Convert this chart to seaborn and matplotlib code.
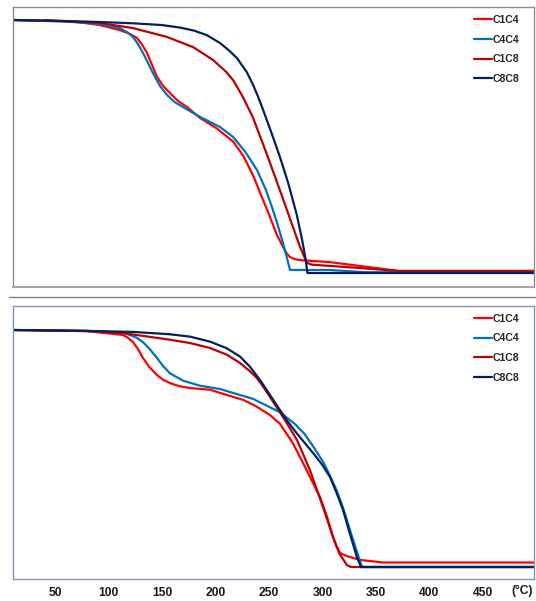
import numpy as np
import pandas as pd
import matplotlib
matplotlib.use('Agg')
import matplotlib.pyplot as plt
import seaborn as sns
from matplotlib.lines import Line2D

sns.set_style('white')
plt.rcParams['font.family'] = ['Liberation Sans', 'DejaVu Sans']

samples = ['C1C4', 'C4C4', 'C1C8', 'C8C8']
colors = {'C1C4': '#FF0000', 'C4C4': '#0070C0', 'C1C8': '#C00000', 'C8C8': '#002060'}
x_ticks = [50, 100, 150, 200, 250, 300, 350, 400, 450]

# --- upper panel (temperature, weight %) ---
top_c1c4_t = [40, 70, 92, 110.7, 120, 126.6, 131, 136, 141, 145.3, 151, 157.5, 165, 173.4, 185.5, 201,
              216.6, 226, 235.3, 243.2, 250.9, 257, 263.1, 266.5, 269.6, 274, 279, 307, 340, 371.5, 500]
top_c1c4_w = [100, 99.3, 98, 96, 94.5, 92.9, 90.5, 87, 82, 77.5, 74, 71.1, 68, 65.6, 61.3, 57.2,
              51.9, 46.3, 38.4, 30.2, 22.2, 15.5, 10.3, 7.8, 6.3, 5.5, 5.1, 4.3, 2.5, 0.8, 0.8]

top_c4c4_t = [11, 60, 92, 110.7, 118, 122.9, 127.5, 132.2, 137, 141.6, 148, 154.7, 162, 169.6, 185.5,
              204.2, 216.4, 228, 238.8, 247.2, 253.7, 258.5, 263.1, 266.5, 269.6, 307, 340, 500]
top_c4c4_w = [100, 99.4, 98.4, 96.8, 95, 93.3, 90.5, 87, 83, 79, 74, 70.4, 67.5, 65.6, 61.7,
              57.7, 53.8, 47.8, 40.7, 32.8, 24.9, 18.5, 11.9, 6.5, 1.2, 1.2, 0.3, 0.3]

top_c1c8_t = [11, 60, 92, 122.9, 154.7, 179, 197.7, 210, 216.4, 225.7, 235, 247.5, 257,
              266.8, 279, 285.5, 290, 307, 340, 371.5, 500]
top_c1c8_w = [100, 99.5, 98.8, 96.8, 93.3, 89.3, 84.2, 79.5, 76.3, 69.5, 61.5, 47.5, 36.5,
              24.9, 10.3, 4, 3.3, 2.8, 1.8, 0.8, 0.8]

top_c8c8_t = [11, 60, 92, 123, 150, 167, 180, 192, 204.2, 212, 220, 229.4, 235, 239.7, 244.4,
              252, 260.3, 268, 276, 281, 284, 286, 500]
top_c8c8_w = [100, 99.6, 99.2, 98.7, 98.0, 97.0, 95.8, 94, 90.9, 88.2, 85, 79.3, 74.5, 69.8, 64.6,
              55.8, 45.8, 35.5, 23, 13, 6, 0, 0]

# --- lower panel ---
bot_c1c4_t = [30, 80, 113.6, 118, 122.9, 127.5, 132.2, 138, 145.3, 151, 157.5, 166, 176.2, 194.9,
              210.5, 226, 238.5, 250.9, 260.3, 272, 281.8, 290, 297.7, 304, 309.8, 313, 316.4,
              322.9, 335, 356.5, 500]
bot_c1c4_w = [100, 99.5, 97.9, 96.8, 94.9, 92, 88.2, 84.5, 81, 79, 77.6, 76.3, 75.5, 74.8,
              72.6, 70.5, 67.7, 64.1, 60.4, 52.5, 43.9, 36.5, 29.5, 21.5, 12.7, 8.8, 5.9,
              4.6, 3, 1.9, 1.9]

bot_c4c4_t = [11, 80, 113.6, 120.1, 126, 132.2, 138.5, 145.3, 151, 157.5, 169.9, 185.5, 204.2, 219.8,
              235.3, 247.8, 260.3, 274.3, 283, 291.4, 300.7, 307, 313.3, 319.2, 325.7, 330, 334, 337, 500]
bot_c4c4_w = [100, 99.6, 98.9, 97.9, 96.8, 94.9, 92, 88.2, 84.8, 81.7, 78.6, 76.5, 75.1, 73,
              70.9, 68.1, 65.3, 60.3, 56.3, 50.8, 44.3, 38.5, 32.3, 25, 15.6, 9.5, 4, 0, 0]

bot_c1c8_t = [11, 80, 113.6, 157.5, 176.2, 194.9, 210.5, 222.9, 232.2, 238.5, 244, 252, 263.1,
              276.2, 288.3, 300.5, 309.8, 316, 322.9, 326.6, 500]
bot_c1c8_w = [100, 99.6, 98.7, 95.9, 94.5, 92.4, 89.6, 86.1, 82.6, 79.8, 76.5, 71, 63.3,
              53.6, 40.9, 25.3, 12.7, 5.5, 0.8, 0, 0]

bot_c8c8_t = [11, 82.7, 123, 157.5, 176.2, 194.9, 210.5, 222.9, 232.2, 241.6, 250.9, 260.3, 266.5,
              276, 291.4, 300, 307, 313, 319.2, 325, 332.2, 336, 500]
bot_c8c8_w = [100, 99.6, 99.2, 98.2, 97.2, 95.1, 92.3, 88.8, 84.5, 78.9, 72.6, 66.2, 62,
              56.4, 48, 43, 38, 31.5, 24.1, 15, 4.2, 0, 0]


def make_frame(series):
    parts = []
    for name, t, w in series:
        parts.append(pd.DataFrame({'temp': t, 'weight': w, 'sample': name}))
    return pd.concat(parts, ignore_index=True)


top_df = make_frame([('C1C4', top_c1c4_t, top_c1c4_w), ('C4C4', top_c4c4_t, top_c4c4_w),
                     ('C1C8', top_c1c8_t, top_c1c8_w), ('C8C8', top_c8c8_t, top_c8c8_w)])
bot_df = make_frame([('C1C4', bot_c1c4_t, bot_c1c4_w), ('C4C4', bot_c4c4_t, bot_c4c4_w),
                     ('C1C8', bot_c1c8_t, bot_c1c8_w), ('C8C8', bot_c8c8_t, bot_c8c8_w)])

fig = plt.figure(figsize=(5.36, 6.01), dpi=100)
W, H = 536, 601
ax1 = fig.add_axes([13 / W, 1 - 287 / H, 521 / W, 280 / H])
ax2 = fig.add_axes([13 / W, 1 - 579 / H, 521 / W, 273 / H])

legend_font = {'family': 'Liberation Sans', 'weight': 'bold', 'size': 7.6}
handles = [Line2D([0], [0], color=colors[s], lw=1.6) for s in samples]

for ax, df, ylim, edge, ly in [(ax1, top_df, (-5.53, 105.14), '#8C8C8C', 0.972),
                               (ax2, bot_df, (-5.06, 110.13), '#8497B0', 0.972)]:
    sns.lineplot(data=df, x='temp', y='weight', hue='sample', hue_order=samples,
                 palette=colors, estimator=None, sort=False, lw=1.6, ax=ax, legend=False)
    ax.set_xlim(10.75, 497.7)
    ax.set_ylim(*ylim)
    ax.set_xlabel('')
    ax.set_ylabel('')
    ax.set_yticks([])
    for sp in ax.spines.values():
        sp.set_color(edge)
        sp.set_linewidth(1.0)
    ax.legend(handles, samples, loc='upper left', bbox_to_anchor=(0.885, ly),
              frameon=False, prop=legend_font, handlelength=1.7, handletextpad=0.1,
              labelspacing=0.92, borderpad=0, borderaxespad=0)

ax1.set_xticks([])
ax1.spines['bottom'].set_color('#A6A6A6')
ax1.spines['bottom'].set_linewidth(1.5)

ax2.set_xticks(x_ticks)
ax2.set_xticklabels([str(v) for v in x_ticks], fontweight='bold', fontsize=8.7, color='#1a1a1a')
ax2.tick_params(axis='x', length=0, pad=6)

fig.add_artist(Line2D([9 / W, 1], [1 - 297 / H, 1 - 297 / H], color='#808080', lw=1.0))
fig.text(522 / W, 1 - 591 / H, '(°C)', ha='center', va='center', fontweight='bold',
         fontsize=8.7, color='#1a1a1a')

fig.savefig('out.png', dpi=100)
